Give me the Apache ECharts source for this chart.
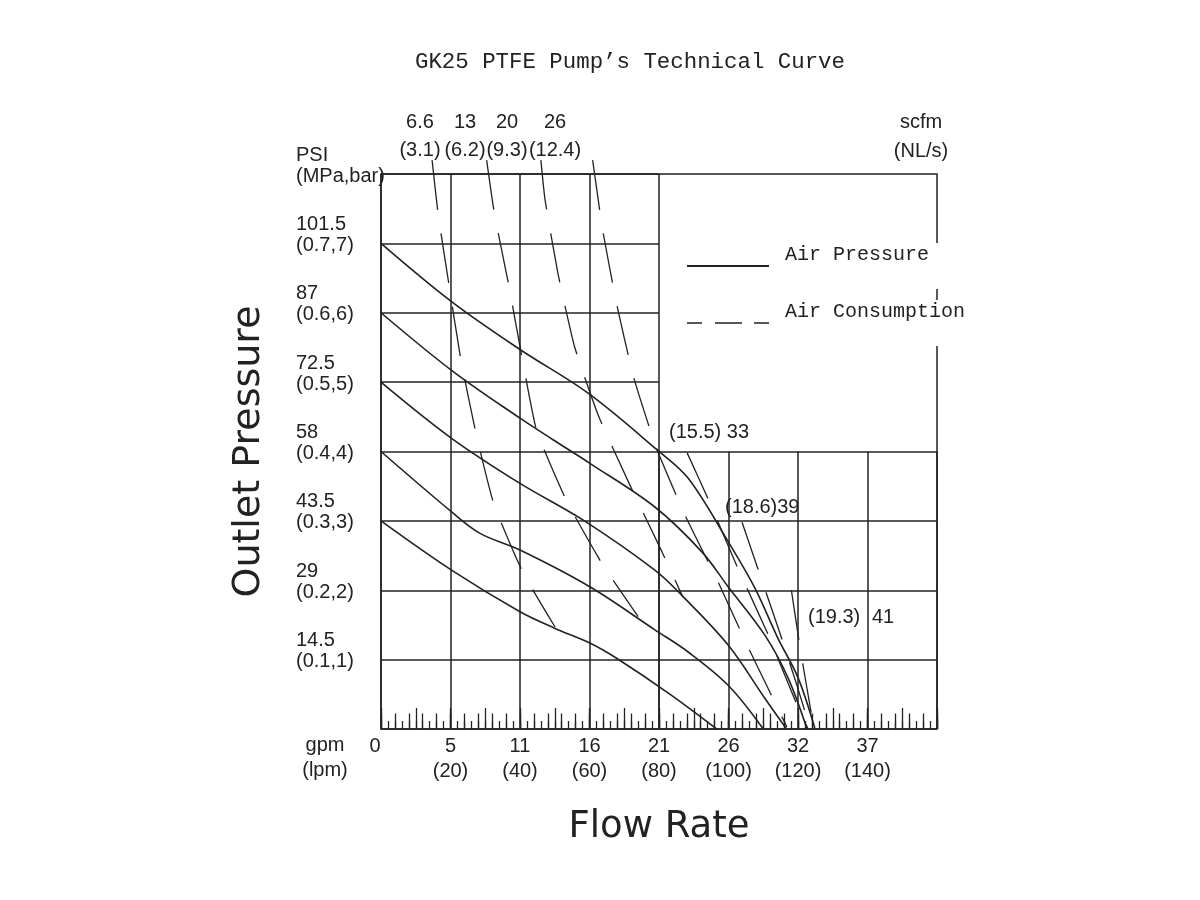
<!DOCTYPE html>
<html>
<head>
<meta charset="UTF-8">
<script src="https://cdn.jsdelivr.net/npm/echarts@6/dist/echarts.min.js"></script>
<style>
  html, body { margin: 0; padding: 0; background: #fff; }
  #chart { width: 1200px; height: 900px; }
</style>
</head>
<body>
<div id="chart"></div>
<script>
// axis labels
var gpmLabels = ['0', '5', '11', '16', '21', '26', '32', '37'];
var lpmLabels = ['', '(20)', '(40)', '(60)', '(80)', '(100)', '(120)', '(140)'];
var psiLabels = ['', '14.5', '29', '43.5', '58', '72.5', '87', '101.5', 'PSI'];
var mpaLabels = ['', '(0.1,1)', '(0.2,2)', '(0.3,3)', '(0.4,4)', '(0.5,5)', '(0.6,6)', '(0.7,7)', '(MPa,bar)'];

// air pressure curves [lpm, bar]
var p7 = [[0, 7.0], [20.3, 6.16], [40.0, 5.47], [59.6, 4.84], [79.3, 4.03], [88.3, 3.62], [99.9, 2.70], [107.6, 2.03], [114.2, 1.31], [120.0, 0.74], [124.9, 0]];
var p6 = [[0, 6.0], [20.3, 5.17], [40.0, 4.48], [49.5, 4.17], [60.1, 3.83], [78.8, 3.20], [92.4, 2.55], [99.9, 2.05], [110.5, 1.35], [117.1, 0.74], [122.6, 0]];
var p5 = [[0, 5.0], [20.3, 4.19], [40.0, 3.54], [58.2, 3.01], [78.8, 2.29], [86.5, 1.93], [99.9, 1.21], [110.5, 0.44], [116.7, 0]];
var p4 = [[0, 4.0], [20.3, 3.13], [28.5, 2.82], [40.0, 2.58], [60.1, 2.05], [78.8, 1.43], [88.4, 1.11], [99.9, 0.63], [110.0, 0]];
var p3 = [[0, 3.0], [20.3, 2.29], [40.0, 1.69], [50.1, 1.45], [60.1, 1.24], [67.8, 1.02], [83.2, 0.50], [96.6, 0]];

// air consumption curves [lpm, bar], top to bottom
var a66 = [[14.7, 8.2], [16.4, 7.44], [19.6, 6.39], [23.0, 5.32], [27.3, 4.27], [32.5, 3.24], [40.9, 2.25], [50.1, 1.47]];
var a13 = [[30.4, 8.2], [32.6, 7.44], [36.8, 6.39], [40.6, 5.35], [44.8, 4.30], [53.4, 3.29], [63.9, 2.36], [74.0, 1.62]];
var a20 = [[46.0, 8.2], [47.2, 7.63], [50.9, 6.57], [55.7, 5.51], [62.7, 4.50], [71.5, 3.53], [80.8, 2.56], [86.6, 1.93]];
var a26 = [[60.9, 8.2], [63.8, 7.19], [67.8, 6.13], [72.6, 5.09], [79.1, 4.07], [87.5, 3.08], [97.0, 2.12], [106.0, 1.14], [116.8, 0.03]];
var a33 = [[88.1, 3.98], [94.1, 3.32], [102.5, 2.34], [111.4, 1.36], [119.1, 0.42], [122.9, 0]];
var a39 = [[103.9, 2.98], [107.3, 2.48], [114.2, 1.47], [119.7, 0.63], [123.5, 0]];
var a41 = [[118.1, 2.0], [120.6, 1.17], [124.6, 0]];

var pressureCurves = [p7, p6, p5, p4, p3];
var airCurves = [a66, a13, a20, a26, a33, a39, a41];

var INK = '#222';
var FONT_NUM = "'Liberation Sans Narrow', 'Liberation Sans', sans-serif";
var FONT_MONO = "'Liberation Mono', 'DejaVu Sans Mono', monospace";
var FONT_BIG = "'DejaVu Sans', sans-serif";

var chart = echarts.init(document.getElementById('chart'));

function hiddenAxis(extra) {
  var ax = {
    type: 'value',
    axisLine: { show: false },
    axisTick: { show: false },
    axisLabel: { show: false },
    splitLine: { show: false }
  };
  for (var k in extra) ax[k] = extra[k];
  return ax;
}

function rulerAxis(step, len) {
  return hiddenAxis({
    gridIndex: 0, position: 'bottom', min: 0, max: 160, interval: step,
    axisTick: { show: true, inside: true, length: len, lineStyle: { color: INK, width: 1.3 } }
  });
}

var gridLine = { show: true, lineStyle: { color: INK, width: 1.5 } };

var series = [];
pressureCurves.forEach(function (d) {
  series.push({
    name: 'Air Pressure', type: 'line', data: d, smooth: 0.35,
    symbol: 'none', clip: false, color: INK, z: 3,
    lineStyle: { color: INK, width: 1.6 }
  });
});
airCurves.forEach(function (d) {
  series.push({
    name: 'Air Consumption', type: 'line', data: d, smooth: 0.15,
    symbol: 'none', clip: false, color: INK, z: 3,
    lineStyle: { color: INK, width: 1.3, type: [50, 24] }
  });
});

function note(x, y, text, align, lh) {
  return {
    type: 'text', x: x, y: y, z: 10,
    style: {
      text: text, fill: INK, fontSize: 20, fontFamily: FONT_NUM,
      align: align || 'center', verticalAlign: 'middle', lineHeight: lh || 25
    }
  };
}

var labelText = { fontFamily: FONT_NUM, fontSize: 20, color: INK, lineHeight: 21 };

var option = {
  backgroundColor: '#fff',
  animation: false,
  title: {
    text: 'GK25 PTFE Pump\u2019s Technical Curve',
    left: 415, top: 51, padding: 0,
    textStyle: { fontFamily: FONT_MONO, fontSize: 22.4, fontWeight: 'normal', color: INK }
  },
  legend: {
    orient: 'vertical', left: 680, top: 238,
    padding: [5, 0, 19, 6],
    itemWidth: 82, itemHeight: 14, itemGap: 11,
    itemStyle: { opacity: 0, color: 'rgba(0,0,0,0)', borderWidth: 0 },
    formatter: function (name) { return name + '\n\u00a0'; },
    textStyle: {
      fontFamily: FONT_MONO, fontSize: 20, color: INK, lineHeight: 23,
      backgroundColor: '#fff', width: 180, padding: [0, 0, 0, 11]
    },
    data: [
      { name: 'Air Pressure' },
      { name: 'Air Consumption', lineStyle: { type: [15, 13, 27, 12], width: 1.3 } }
    ]
  },
  grid: [
    { left: 381, top: 174, width: 556, height: 555, show: true, borderColor: INK, borderWidth: 1.5, outerBoundsMode: 'none' },
    { left: 381, top: 174, width: 278, height: 555, outerBoundsMode: 'none' },
    { left: 659, top: 451.5, width: 278, height: 277.5, outerBoundsMode: 'none' }
  ],
  xAxis: [
    hiddenAxis({
      gridIndex: 0, position: 'bottom', min: 0, max: 160, interval: 20,
      name: 'Flow Rate', nameLocation: 'middle', nameGap: 80,
      nameTextStyle: { fontFamily: FONT_BIG, fontSize: 37, color: INK },
      axisLabel: {
        show: true, showMinLabel: true, showMaxLabel: true, margin: 5,
        fontFamily: FONT_NUM, fontSize: 20, color: INK, lineHeight: 25,
        rich: { z: { fontFamily: FONT_NUM, fontSize: 20, color: INK, padding: [0, 12, 0, 0] } },
        formatter: function (v) {
          var i = Math.round(v / 20);
          if (i >= gpmLabels.length) return '';
          if (!lpmLabels[i]) return '{z|' + gpmLabels[i] + '}';
          return gpmLabels[i] + '\n' + lpmLabels[i];
        }
      }
    }),
    rulerAxis(2, 8),
    rulerAxis(4, 15.5),
    rulerAxis(10, 21),
    hiddenAxis({ gridIndex: 1, min: 0, max: 80, interval: 20, splitLine: gridLine }),
    hiddenAxis({ gridIndex: 2, min: 80, max: 160, interval: 20, splitLine: gridLine })
  ],
  yAxis: [
    hiddenAxis({
      gridIndex: 0, min: 0, max: 8, interval: 1,
      name: 'Outlet Pressure', nameLocation: 'middle', nameGap: 113, nameRotate: 90,
      nameTextStyle: { fontFamily: FONT_BIG, fontSize: 38, color: INK },
      axisLabel: {
        show: true, showMinLabel: true, showMaxLabel: true, margin: 85, align: 'left',
        fontFamily: FONT_NUM, fontSize: 20, color: INK, lineHeight: 21,
        rich: {
          t: labelText,
          gap: { fontFamily: FONT_NUM, fontSize: 12, color: INK, lineHeight: 17 }
        },
        formatter: function (v) {
          var i = Math.round(v);
          if (!psiLabels[i]) return '';
          return '{t|' + psiLabels[i] + '}\n{t|' + mpaLabels[i] + '}\n{gap|\u00a0}';
        }
      }
    }),
    hiddenAxis({ gridIndex: 1, min: 0, max: 8, interval: 1, splitLine: gridLine }),
    hiddenAxis({ gridIndex: 2, min: 0, max: 4, interval: 1, splitLine: gridLine })
  ],
  graphic: [
    note(325, 758, 'gpm\n(lpm)', 'center', 25),
    note(921, 137, 'scfm\n(NL/s)', 'center', 29),
    note(420, 136, '6.6\n(3.1)', 'center', 28),
    note(465, 136, '13\n(6.2)', 'center', 28),
    note(507, 136, '20\n(9.3)', 'center', 28),
    note(555, 136, '26\n(12.4)', 'center', 28),
    note(669, 432, '(15.5) 33', 'left'),
    note(725, 507, '(18.6)39', 'left'),
    note(808, 617, '(19.3)', 'left'),
    note(872, 617, '41', 'left')
  ],
  series: series
};

chart.setOption(option);
</script>
</body>
</html>
